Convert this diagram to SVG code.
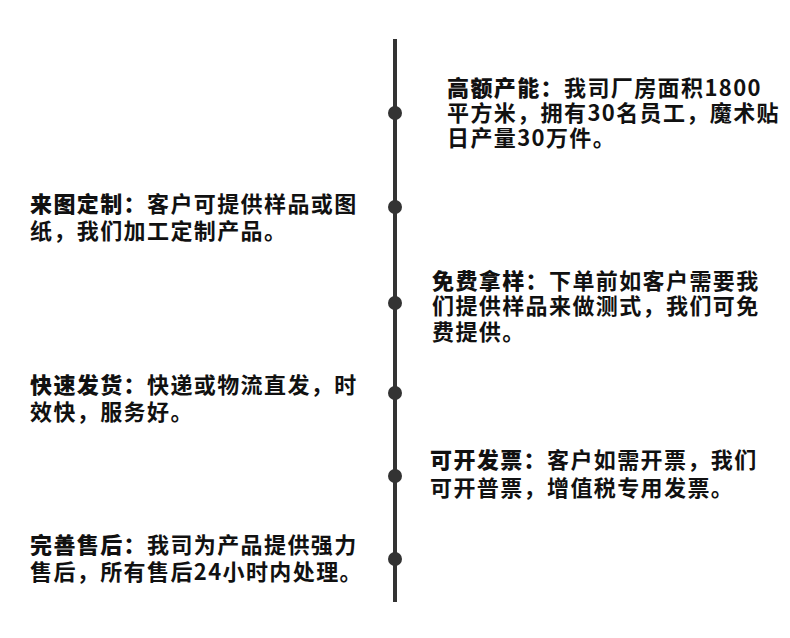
<svg xmlns="http://www.w3.org/2000/svg" width="790" height="638" viewBox="0 0 790 638">
<style>
.t{font-family:"Noto Sans CJK SC","Noto Sans",sans-serif;font-size:22px;fill:#111;font-weight:bold;letter-spacing:1.4px}
.h{font-weight:900}
.dot{fill:#333}
</style>
<rect width="790" height="638" fill="#fff"/>
<g id="connectors">
<line x1="395" y1="39" x2="395" y2="602" stroke="#333" stroke-width="4"/>
</g>
<g id="node1"><circle class="dot" cx="395" cy="113" r="7"/>
<text class="t h" x="447" y="96">高额产能：</text><text class="t" x="564" y="96">我司厂房面积1800</text>
<text class="t" x="447" y="121">平方米，拥有30名员工，魔术贴</text>
<text class="t" x="447" y="146">日产量30万件。</text></g>
<g id="node2"><circle class="dot" cx="395" cy="207" r="7"/>
<text class="t h" x="30" y="212">来图定制：</text><text class="t" x="147" y="212">客户可提供样品或图</text>
<text class="t" x="30" y="239">纸，我们加工定制产品。</text></g>
<g id="node3"><circle class="dot" cx="395" cy="303" r="7"/>
<text class="t h" x="432" y="289">免费拿样：</text><text class="t" x="549" y="289">下单前如客户需要我</text>
<text class="t" x="432" y="314">们提供样品来做测式，我们可免</text>
<text class="t" x="432" y="340">费提供。</text></g>
<g id="node4"><circle class="dot" cx="395" cy="393" r="7"/>
<text class="t h" x="30" y="393">快速发货：</text><text class="t" x="147" y="393">快递或物流直发，时</text>
<text class="t" x="30" y="420">效快，服务好。</text></g>
<g id="node5"><circle class="dot" cx="395" cy="476" r="7"/>
<text class="t h" x="430" y="468">可开发票：</text><text class="t" x="547" y="468">客户如需开票，我们</text>
<text class="t" x="430" y="496">可开普票，增值税专用发票。</text></g>
<g id="node6"><circle class="dot" cx="395" cy="559" r="7"/>
<text class="t h" x="30" y="553">完善售后：</text><text class="t" x="147" y="553">我司为产品提供强力</text>
<text class="t" x="30" y="580">售后，所有售后24小时内处理。</text></g>
</svg>
